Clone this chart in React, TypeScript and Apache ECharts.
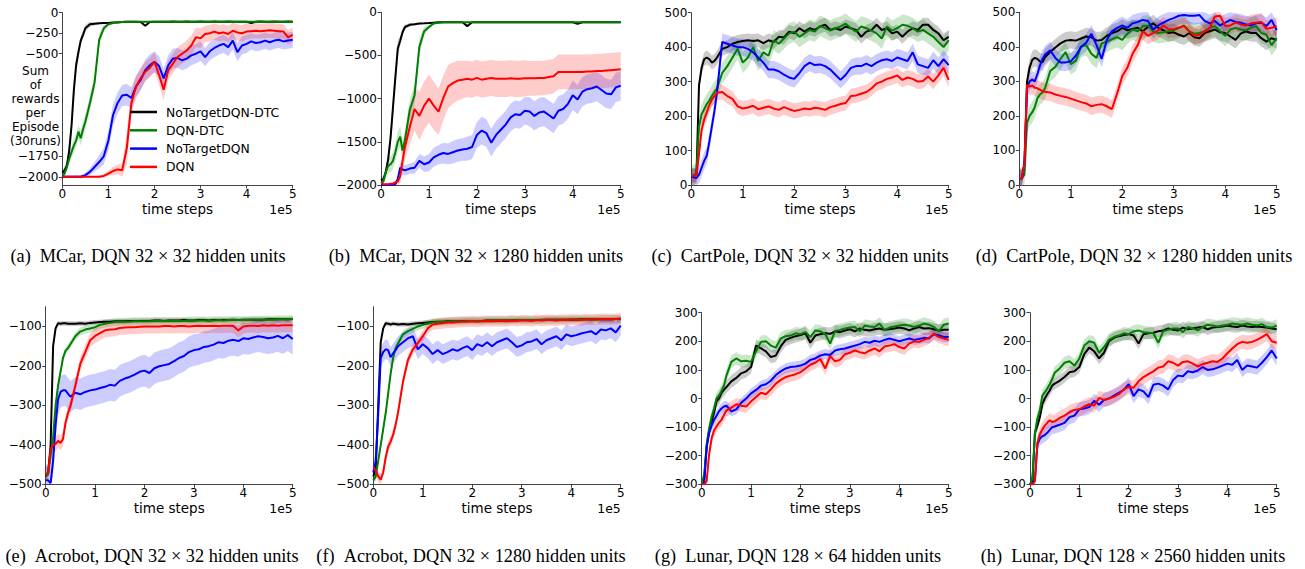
import React, { useEffect, useRef } from 'react';
import * as echarts from 'echarts';

// x positions (time steps, in units of 1e5)
const X = [0, 0.05, 0.1, 0.15, 0.2, 0.25, 0.3, 0.35, 0.4, 0.45, 0.5,
  0.6, 0.7, 0.8, 0.9, 1.0, 1.1, 1.2, 1.3, 1.4, 1.5, 1.6, 1.7, 1.8, 1.9, 2.0,
  2.1, 2.2, 2.3, 2.4, 2.5, 2.6, 2.7, 2.8, 2.9, 3.0, 3.1, 3.2, 3.3, 3.4, 3.5,
  3.6, 3.7, 3.8, 3.9, 4.0, 4.1, 4.2, 4.3, 4.4, 4.5, 4.6, 4.7, 4.8, 4.9, 5.0];

const NAMES = ['NoTargetDQN-DTC', 'DQN-DTC', 'NoTargetDQN', 'DQN'];
const X_TICKS = [0, 1, 2, 3, 4, 5];

// (a) MCar 32x32
const A_BLACK = [-1950, -1920, -1860, -1680, -1380, -950, -640, -480, -340, -270, -190,
  -140, -135, -130, -125, -125, -120, -118, -112, -110, -110, -110, -112, -160, -112, -110,
  -110, -110, -110, -108, -110, -110, -108, -110, -110, -108, -110, -110, -108, -110, -110,
  -108, -110, -110, -110, -110, -125, -110, -108, -110, -110, -108, -110, -110, -108, -110];
const A_GREEN = [-2000, -1960, -1880, -1780, -1700, -1620, -1560, -1450, -1530, -1420, -1330,
  -1100, -850, -330, -190, -140, -125, -115, -112, -110, -110, -110, -110, -110, -109, -110,
  -110, -109, -110, -110, -109, -110, -110, -109, -110, -110, -109, -110, -110, -109, -110,
  -110, -109, -110, -110, -109, -110, -110, -109, -110, -110, -109, -110, -110, -109, -110];
const A_BLUE = [-2000, -2000, -2000, -2000, -2000, -2000, -2000, -2000, -2000, -1990, -1980,
  -1940, -1880, -1820, -1750, -1560, -1250, -1100, -1010, -1000, -1040, -900, -820, -700, -640, -600,
  -650, -800, -640, -560, -550, -580, -560, -520, -500, -470, -540, -470, -430, -400, -380,
  -420, -340, -480, -400, -380, -350, -370, -360, -340, -360, -340, -330, -350, -340, -330];
const A_RED = [-2000, -2000, -2000, -2000, -2000, -2000, -2000, -2000, -2000, -2000, -2000,
  -2000, -2000, -2000, -1990, -1960, -1930, -1910, -1920, -1650, -1100, -900, -800, -720, -670, -600,
  -760, -940, -700, -620, -540, -500, -460, -400, -300, -310, -260, -250, -230, -250, -240,
  -260, -220, -240, -250, -230, -225, -220, -225, -220, -215, -220, -225, -230, -300, -270];
const A_BLACK_SD = [30, 40, 60, 80, 100, 120, 100, 80, 60, 50, 40,
  30, 20, 15, 10, 10, 10, 10, 10, 10, 10, 10, 10, 10, 10, 10,
  10, 10, 10, 10, 10, 10, 10, 10, 10, 10, 10, 10, 10, 10, 10,
  10, 10, 10, 10, 10, 10, 10, 10, 10, 10, 10, 10, 10, 10, 10];
const A_GREEN_SD = [20, 30, 50, 60, 70, 80, 80, 80, 90, 90, 90,
  90, 90, 80, 40, 20, 10, 10, 10, 10, 10, 10, 10, 10, 10, 10,
  10, 10, 10, 10, 10, 10, 10, 10, 10, 10, 10, 10, 10, 10, 10,
  10, 10, 10, 10, 10, 10, 10, 10, 10, 10, 10, 10, 10, 10, 10];
const A_BLUE_SD = [15, 15, 15, 15, 15, 15, 15, 15, 20, 20, 25,
  40, 60, 80, 100, 120, 130, 130, 130, 130, 130, 130, 130, 130, 130, 130,
  120, 120, 120, 120, 120, 120, 120, 120, 120, 120, 110, 110, 110, 110, 110,
  110, 110, 110, 110, 110, 100, 100, 100, 100, 100, 100, 100, 100, 100, 100];
const A_RED_SD = [10, 10, 10, 10, 10, 10, 10, 10, 10, 10, 10,
  10, 10, 15, 20, 30, 50, 60, 80, 200, 150, 130, 130, 120, 120, 120,
  120, 120, 120, 120, 120, 120, 120, 120, 120, 120, 100, 100, 100, 100, 100,
  100, 100, 100, 100, 100, 90, 90, 90, 90, 90, 90, 90, 90, 90, 90];

// (b) MCar 32x1280
const B_BLACK = [-1950, -1930, -1850, -1700, -1450, -1100, -750, -420, -330, -230, -170,
  -145, -138, -130, -128, -125, -120, -115, -115, -115, -115, -115, -115, -160, -115, -115,
  -115, -114, -115, -115, -114, -115, -115, -114, -115, -115, -114, -115, -115, -114, -115,
  -115, -114, -115, -115, -115, -132, -115, -114, -115, -115, -114, -115, -115, -114, -115];
const B_GREEN = [-1980, -1960, -1850, -1780, -1760, -1720, -1620, -1500, -1440, -1600, -1480,
  -1130, -960, -400, -220, -170, -130, -120, -116, -115, -115, -115, -114, -115, -115, -114,
  -115, -115, -114, -115, -115, -114, -115, -115, -114, -115, -115, -114, -115, -115, -114,
  -115, -115, -114, -115, -115, -114, -115, -115, -114, -115, -115, -114, -115, -115, -114];
const B_BLUE = [-2000, -2000, -2000, -2000, -2000, -2000, -1990, -1930, -1800, -1820, -1830,
  -1810, -1800, -1720, -1760, -1740, -1680, -1650, -1630, -1640, -1620, -1600, -1590, -1580, -1560, -1420,
  -1370, -1400, -1510, -1420, -1360, -1300, -1220, -1180, -1190, -1140, -1150, -1200, -1160, -1150, -1190,
  -1230, -1140, -1120, -1060, -960, -1010, -920, -890, -880, -860, -900, -940, -950, -870, -850];
const B_RED = [-1980, -1990, -1990, -1990, -1985, -1985, -1970, -1960, -1900, -1720, -1560,
  -1330, -1120, -1200, -1080, -1000, -1080, -1150, -990, -860, -820, -790, -780, -770, -780, -760,
  -780, -770, -760, -770, -770, -770, -765, -770, -770, -765, -765, -765, -760, -760, -750,
  -740, -690, -690, -690, -690, -690, -690, -685, -685, -680, -680, -675, -670, -665, -660];
const B_BLACK_SD = [30, 40, 60, 90, 110, 120, 110, 90, 60, 40, 30,
  20, 15, 12, 10, 10, 10, 10, 10, 10, 10, 10, 10, 10, 10, 10,
  10, 10, 10, 10, 10, 10, 10, 10, 10, 10, 10, 10, 10, 10, 10,
  10, 10, 10, 10, 10, 10, 10, 10, 10, 10, 10, 10, 10, 10, 10];
const B_GREEN_SD = [20, 30, 60, 80, 90, 100, 100, 110, 120, 120, 120,
  120, 120, 100, 50, 30, 15, 10, 10, 10, 10, 10, 10, 10, 10, 10,
  10, 10, 10, 10, 10, 10, 10, 10, 10, 10, 10, 10, 10, 10, 10,
  10, 10, 10, 10, 10, 10, 10, 10, 10, 10, 10, 10, 10, 10, 10];
const B_BLUE_SD = [10, 10, 10, 10, 10, 10, 20, 40, 60, 60, 60,
  60, 70, 80, 90, 100, 110, 110, 120, 120, 130, 130, 130, 140, 140, 150,
  160, 160, 160, 160, 160, 160, 160, 160, 160, 160, 170, 170, 170, 170, 170,
  170, 170, 170, 170, 170, 170, 170, 170, 170, 170, 170, 170, 170, 170, 170];
const B_RED_SD = [10, 10, 10, 10, 10, 10, 20, 40, 80, 120, 150,
  200, 250, 280, 280, 280, 280, 270, 260, 250, 240, 230, 220, 210, 210, 210,
  210, 210, 210, 210, 210, 210, 210, 210, 210, 210, 200, 200, 200, 200, 200,
  200, 200, 200, 200, 200, 200, 200, 200, 200, 200, 200, 200, 200, 200, 200];

// (c) CartPole 32x32
const C_BLACK = [25, 28, 30, 290, 340, 365, 370, 365, 355, 360, 370,
  395, 400, 410, 415, 418, 420, 418, 420, 412, 420, 415, 430, 428, 445, 440,
  455, 445, 455, 450, 460, 465, 450, 455, 450, 460, 455, 450, 430, 445, 450,
  465, 450, 455, 440, 445, 430, 445, 455, 450, 465, 465, 450, 440, 420, 430];
const C_GREEN = [25, 28, 35, 170, 205, 220, 235, 245, 258, 270, 280,
  325, 345, 370, 395, 355, 370, 400, 360, 385, 375, 420, 410, 425, 440, 445,
  430, 440, 450, 445, 462, 455, 448, 455, 460, 468, 455, 445, 460, 455, 448,
  440, 425, 460, 448, 455, 465, 462, 455, 445, 450, 440, 430, 415, 400, 420];
const C_BLUE = [25, 22, 20, 30, 50, 70, 85, 125, 170, 215, 270,
  415, 410, 405, 400, 400, 395, 385, 370, 355, 335, 335, 330, 320, 312, 308,
  325, 345, 355, 348, 350, 345, 335, 320, 305, 320, 340, 345, 345, 352, 345,
  355, 362, 365, 360, 370, 365, 360, 385, 350, 345, 340, 362, 345, 365, 348];
const C_RED = [25, 28, 25, 90, 160, 190, 210, 232, 248, 258, 268,
  270, 258, 250, 228, 222, 225, 230, 220, 224, 228, 222, 218, 226, 220, 215,
  218, 222, 220, 224, 222, 218, 226, 230, 235, 238, 258, 260, 265, 270, 280,
  295, 300, 308, 312, 318, 305, 312, 308, 300, 302, 315, 300, 318, 340, 305];
const C_SD = [20, 30, 25, 22];

// (d) CartPole 32x1280
const D_BLACK = [20, 20, 60, 300, 340, 362, 368, 365, 358, 355, 370,
  385, 398, 410, 418, 420, 418, 424, 430, 428, 418, 420, 432, 440, 445, 455,
  448, 452, 455, 445, 458, 468, 455, 448, 440, 442, 435, 430, 440, 428, 425,
  440, 445, 450, 442, 440, 430, 420, 438, 445, 440, 440, 425, 415, 425, 420];
const D_GREEN = [20, 20, 30, 180, 200, 210, 225, 250, 262, 268, 280,
  330, 342, 365, 385, 350, 360, 400, 405, 380, 368, 410, 415, 422, 428, 420,
  438, 450, 445, 460, 462, 445, 440, 442, 445, 448, 455, 462, 445, 438, 440,
  445, 455, 460, 445, 432, 450, 455, 450, 448, 455, 460, 440, 435, 405, 425];
const D_BLUE = [20, 18, 60, 280, 300, 305, 300, 320, 345, 365, 378,
  390, 368, 355, 355, 358, 375, 400, 412, 438, 405, 365, 420, 445, 455, 462,
  455, 468, 472, 478, 475, 450, 462, 470, 478, 483, 490, 492, 490, 490, 492,
  475, 468, 475, 462, 470, 478, 472, 470, 465, 462, 468, 470, 460, 478, 448];
const D_RED = [20, 20, 60, 290, 285, 288, 282, 280, 276, 272, 270,
  268, 262, 258, 255, 250, 245, 240, 236, 228, 232, 234, 228, 220, 265, 315,
  340, 380, 405, 445, 432, 440, 448, 462, 450, 452, 455, 460, 445, 432, 435,
  445, 455, 488, 490, 460, 462, 470, 465, 462, 468, 470, 472, 452, 455, 460];
const D_SD = [25, 30, 25, 25];

// (e) Acrobot 32x32
const E_BLACK = [-480, -470, -400, -150, -105, -92, -93, -92, -92, -93, -93,
  -93, -92, -93, -91, -90, -89, -88, -88, -87, -87, -87, -86, -86, -86, -86,
  -86, -85, -85, -86, -85, -85, -85, -84, -85, -85, -84, -84, -85, -84, -84,
  -84, -84, -83, -84, -83, -83, -83, -83, -83, -82, -82, -82, -82, -82, -81];
const E_GREEN = [-480, -475, -430, -380, -300, -250, -215, -180, -162, -155, -145,
  -125, -113, -108, -105, -102, -96, -93, -91, -89, -88, -88, -88, -87, -87, -87,
  -87, -86, -86, -86, -86, -86, -86, -86, -85, -85, -85, -85, -85, -85, -84,
  -85, -84, -84, -84, -84, -84, -83, -83, -83, -83, -83, -82, -82, -82, -81];
const E_BLUE = [-490, -490, -497, -440, -350, -285, -266, -262, -262, -270, -278,
  -268, -272, -266, -262, -260, -256, -253, -248, -250, -238, -232, -228, -222, -215, -212,
  -218, -206, -201, -198, -195, -188, -180, -175, -165, -160, -158, -152, -150, -146, -140,
  -142, -136, -134, -137, -130, -132, -128, -125, -127, -130, -128, -124, -130, -122, -132];
const E_RED = [-475, -472, -410, -400, -398, -390, -395, -385, -345, -320, -302,
  -250, -195, -165, -135, -124, -117, -110, -108, -107, -104, -103, -102, -102, -101, -100,
  -100, -100, -100, -99, -99, -100, -99, -99, -100, -99, -98, -99, -99, -98, -99,
  -98, -98, -99, -110, -100, -98, -98, -99, -97, -98, -97, -98, -97, -97, -97];
const E_SD = [6, 10, 40, 18];

// (f) Acrobot 32x1280
const F_BLACK = [-480, -460, -300, -140, -105, -92, -93, -95, -93, -94, -95,
  -94, -95, -93, -92, -91, -90, -89, -88, -88, -87, -87, -87, -86, -86, -86,
  -86, -86, -85, -85, -85, -85, -85, -85, -84, -84, -84, -84, -84, -84, -83,
  -83, -83, -83, -83, -83, -83, -82, -82, -82, -82, -82, -82, -82, -81, -81];
const F_GREEN = [-490, -480, -440, -400, -360, -320, -270, -220, -180, -155, -143,
  -120, -112, -106, -100, -96, -93, -90, -89, -88, -88, -87, -87, -87, -86, -86,
  -86, -86, -85, -85, -85, -85, -85, -84, -84, -84, -84, -84, -84, -83, -83,
  -83, -83, -83, -83, -82, -82, -82, -82, -82, -82, -81, -81, -81, -81, -81];
const F_BLUE = [-470, -440, -320, -180, -165, -158, -160, -178, -168, -160, -150,
  -140, -130, -125, -158, -145, -155, -170, -160, -170, -165, -158, -162, -155, -150, -160,
  -145, -150, -140, -150, -140, -135, -130, -140, -152, -148, -140, -138, -132, -145, -135,
  -130, -125, -135, -120, -125, -122, -118, -115, -112, -120, -108, -110, -105, -115, -98];
const F_RED = [-455, -465, -480, -488, -470, -432, -405, -392, -375, -350, -318,
  -240, -185, -158, -142, -125, -105, -95, -93, -92, -90, -90, -89, -88, -88, -87,
  -88, -87, -86, -87, -86, -86, -87, -85, -86, -85, -85, -86, -84, -85, -84,
  -84, -85, -83, -84, -83, -83, -84, -82, -83, -82, -82, -81, -82, -81, -80];
const F_SD = [6, 10, 25, 14];

// (g) Lunar 128x64
const G_BLACK = [-300, -280, -170, -115, -80, -50, -10, 0, 20, 30, 40,
  60, 72, 88, 95, 110, 185, 175, 165, 145, 150, 182, 205, 212, 218, 222,
  228, 195, 220, 225, 228, 226, 235, 232, 238, 242, 235, 245, 240, 238, 242,
  245, 240, 242, 245, 248, 245, 238, 245, 250, 245, 246, 242, 238, 240, 240];
const G_GREEN = [-300, -270, -160, -105, -65, -35, 0, 10, 25, 45, 80,
  128, 140, 130, 132, 128, 165, 198, 200, 185, 178, 210, 218, 220, 228, 225,
  232, 215, 238, 235, 225, 192, 236, 240, 245, 248, 250, 235, 255, 252, 250,
  262, 240, 248, 252, 255, 258, 255, 250, 255, 262, 258, 250, 235, 258, 262];
const G_BLUE = [-300, -300, -170, -120, -95, -75, -60, -45, -35, -28, -25,
  -45, -38, -15, 0, 18, 30, 45, 50, 62, 82, 95, 105, 110, 112, 115,
  122, 135, 140, 150, 155, 152, 168, 172, 175, 180, 185, 190, 198, 195, 202,
  198, 205, 210, 205, 200, 205, 210, 205, 208, 212, 210, 225, 220, 215, 215];
const G_RED = [-300, -300, -290, -195, -140, -112, -98, -85, -75, -58, -42,
  -32, -20, -25, -28, -10, 5, 20, 15, 32, 52, 65, 75, 80, 85, 92,
  105, 118, 125, 138, 105, 148, 130, 135, 155, 160, 168, 162, 158, 168, 175,
  165, 182, 185, 190, 180, 175, 192, 200, 198, 205, 212, 225, 215, 210, 205];
const G_SD = [22, 22, 18, 22];

// (h) Lunar 128x2560
const H_BLACK = [-300, -290, -120, -95, -65, -20, 0, 15, 28, 45, 52,
  62, 75, 92, 95, 110, 155, 178, 165, 140, 160, 200, 212, 218, 222, 225,
  220, 192, 225, 228, 230, 235, 238, 245, 240, 238, 248, 242, 245, 248, 250,
  242, 248, 250, 252, 255, 252, 250, 255, 252, 250, 252, 250, 248, 245, 242];
const H_GREEN = [-300, -280, -120, -70, -40, 10, 22, 35, 50, 68, 90,
  105, 125, 130, 115, 140, 185, 200, 195, 160, 180, 205, 215, 220, 228, 225,
  235, 238, 232, 230, 228, 195, 235, 240, 245, 245, 232, 250, 245, 238, 250,
  258, 255, 252, 255, 258, 262, 260, 258, 262, 258, 255, 260, 250, 248, 255];
const H_BLUE = [-300, -300, -280, -160, -140, -132, -128, -120, -110, -100, -98,
  -92, -85, -65, -60, -38, -35, -30, -8, -22, -5, 0, 10, 20, 30, 50,
  8, 32, 25, 5, 48, 52, 45, 32, 65, 80, 78, 95, 92, 98, 110,
  100, 102, 108, 115, 122, 118, 135, 100, 115, 112, 108, 125, 145, 168, 140];
const H_RED = [-300, -300, -290, -155, -125, -108, -95, -85, -76, -82, -80,
  -68, -60, -48, -40, -38, -28, -20, -25, 2, -5, 0, 6, 15, 32, 40,
  38, 60, 75, 85, 95, 108, 112, 130, 125, 115, 128, 130, 122, 112, 120,
  125, 130, 128, 140, 158, 175, 190, 198, 195, 198, 205, 215, 225, 200, 195];
const H_SD = [20, 22, 25, 25];

// y tick labels
const Y_TICKS_A = [0, -250, -500, -1750, -2000];
const Y_TICKS_B = [0, -500, -1000, -1500, -2000];
const Y_TICKS_CP = [0, 100, 200, 300, 400, 500];
const Y_TICKS_AC = [-100, -200, -300, -400, -500];
const Y_TICKS_LU = [300, 200, 100, 0, -100, -200, -300];

const CAPTIONS = [
  '(a)\u00a0\u00a0MCar, DQN 32 × 32 hidden units',
  '(b)\u00a0\u00a0MCar, DQN 32 × 1280 hidden units',
  '(c)\u00a0\u00a0CartPole, DQN 32 × 32 hidden units',
  '(d)\u00a0\u00a0CartPole, DQN 32 × 1280 hidden units',
  '(e)\u00a0\u00a0Acrobot, DQN 32 × 32 hidden units',
  '(f)\u00a0\u00a0Acrobot, DQN 32 × 1280 hidden units',
  '(g)\u00a0\u00a0Lunar, DQN 128 × 64 hidden units',
  '(h)\u00a0\u00a0Lunar, DQN 128 × 2560 hidden units',
];

const COLORS = ['#000000', '#008000', '#0000ff', '#ff0000'];
const BAND_COLORS = ['rgba(0,0,0,0.2)', 'rgba(0,128,0,0.2)', 'rgba(0,0,255,0.2)', 'rgba(255,0,0,0.2)'];

const PANELS = [
  { means: [A_BLACK, A_GREEN, A_BLUE, A_RED], sds: [A_BLACK_SD, A_GREEN_SD, A_BLUE_SD, A_RED_SD], yMin: -2100, yMax: 0, yTicks: Y_TICKS_A,
    grid: { left: 62.3, top: 12.7, width: 230.4, height: 172.3 }, cap: { x: 148, y: 256 } },
  { means: [B_BLACK, B_GREEN, B_BLUE, B_RED], sds: [B_BLACK_SD, B_GREEN_SD, B_BLUE_SD, B_RED_SD], yMin: -2000, yMax: 0, yTicks: Y_TICKS_B,
    grid: { left: 381, top: 12.3, width: 239.7, height: 172.7 }, cap: { x: 476, y: 256 } },
  { means: [C_BLACK, C_GREEN, C_BLUE, C_RED], sds: C_SD, yMin: 0, yMax: 500, yTicks: Y_TICKS_CP,
    grid: { left: 691.3, top: 12.7, width: 257.4, height: 172.3 }, cap: { x: 800, y: 256 } },
  { means: [D_BLACK, D_GREEN, D_BLUE, D_RED], sds: D_SD, yMin: 0, yMax: 500, yTicks: Y_TICKS_CP,
    grid: { left: 1019.3, top: 12.3, width: 257.4, height: 172.7 }, cap: { x: 1134, y: 256 } },
  { means: [E_BLACK, E_GREEN, E_BLUE, E_RED], sds: E_SD, yMin: -500, yMax: -50, yTicks: Y_TICKS_AC,
    grid: { left: 45.7, top: 306.7, width: 247, height: 177.6 }, cap: { x: 152, y: 556 } },
  { means: [F_BLACK, F_GREEN, F_BLUE, F_RED], sds: F_SD, yMin: -500, yMax: -50, yTicks: Y_TICKS_AC,
    grid: { left: 373.3, top: 306.7, width: 247.4, height: 177.6 }, cap: { x: 471, y: 556 } },
  { means: [G_BLACK, G_GREEN, G_BLUE, G_RED], sds: G_SD, yMin: -300, yMax: 300, yTicks: Y_TICKS_LU,
    grid: { left: 701.7, top: 312.7, width: 247, height: 171.6 }, cap: { x: 798, y: 556 } },
  { means: [H_BLACK, H_GREEN, H_BLUE, H_RED], sds: H_SD, yMin: -300, yMax: 300, yTicks: Y_TICKS_LU,
    grid: { left: 1030, top: 312.7, width: 246.7, height: 171.6 }, cap: { x: 1133, y: 556 } },
];

const SANS = 'DejaVu Sans';
const SERIF = 'Liberation Serif';
const AXIS_COLOR = '#444';

const sdAt = (sd: any, k: number) => (Array.isArray(sd) ? sd[k] : sd);
const fmtNum = (v: number) => String(v).replace('-', '\u2212');

function buildOption() {
  const grid: any[] = [];
  const xAxis: any[] = [];
  const yAxis: any[] = [];
  const series: any[] = [];
  const graphic: any[] = [];

  PANELS.forEach((p, i) => {
    grid.push({ ...p.grid, containLabel: false, outerBoundsMode: 'none' });
    xAxis.push({
      type: 'value', gridIndex: i, min: 0, max: 5, interval: 1,
      name: 'time steps', nameLocation: 'middle', nameGap: 17,
      nameTextStyle: { fontFamily: SANS, fontSize: 13.5, color: '#000' },
      axisLine: { show: true, onZero: false, lineStyle: { color: AXIS_COLOR, width: 1 } },
      axisTick: { show: true, length: 3.5, lineStyle: { color: AXIS_COLOR, width: 1 }, customValues: X_TICKS },
      axisLabel: { fontFamily: SANS, fontSize: 12, color: '#000', margin: 3, customValues: X_TICKS },
      splitLine: { show: false },
    });
    yAxis.push({
      type: 'value', gridIndex: i, min: p.yMin, max: p.yMax,
      axisLine: { show: true, onZero: false, lineStyle: { color: AXIS_COLOR, width: 1 } },
      axisTick: { show: true, length: 3.5, lineStyle: { color: AXIS_COLOR, width: 1 }, customValues: p.yTicks },
      axisLabel: { fontFamily: SANS, fontSize: 12, color: '#000', margin: 4, customValues: p.yTicks, formatter: (v: number) => fmtNum(v) },
      splitLine: { show: false },
    });

    // bands
    p.means.forEach((mean, s) => {
      const sd = (p.sds as any)[s];
      series.push({
        type: 'custom', xAxisIndex: i, yAxisIndex: i, silent: true, z: 1,
        data: X.map((x, k) => [x, mean[k]]),
        encode: { x: 0, y: 1 },
        renderItem: (params: any, api: any) => {
          if (params.dataIndex !== 0) return null;
          const clamp = (v: number) => Math.max(p.yMin, Math.min(p.yMax, v));
          const up = X.map((x, k) => api.coord([x, clamp(mean[k] + sdAt(sd, k))]));
          const lo = X.map((x, k) => api.coord([x, clamp(mean[k] - sdAt(sd, k))])).reverse();
          return { type: 'polygon', shape: { points: up.concat(lo) }, style: { fill: BAND_COLORS[s] }, silent: true };
        },
      });
    });
    // lines
    p.means.forEach((mean, s) => {
      series.push({
        type: 'line', name: NAMES[s], xAxisIndex: i, yAxisIndex: i, z: 2,
        data: X.map((x, k) => [x, mean[k]]),
        showSymbol: false, symbol: 'none', silent: true, clip: true,
        lineStyle: { color: COLORS[s], width: 2 }, itemStyle: { color: COLORS[s] },
      });
    });

    // "1e5" offset text
    graphic.push({
      type: 'text', x: p.grid.left + p.grid.width, y: p.grid.top + p.grid.height + 24.5, silent: true,
      style: { text: '1e5', fontFamily: SANS, fontSize: 12.4, fill: '#000', align: 'right', verticalAlign: 'middle' },
    });
    // caption
    graphic.push({
      type: 'text', x: p.cap.x, y: p.cap.y, silent: true,
      style: { text: CAPTIONS[i], fontFamily: SERIF, fontSize: 18.3, fill: '#000', align: 'center', verticalAlign: 'middle' },
    });
  });

  // y label of panel (a)
  graphic.push({
    type: 'text', x: 35.5, y: 106, silent: true,
    style: { text: 'Sum\nof\nrewards\nper\nEpisode\n(30runs)', fontFamily: SANS, fontSize: 12, lineHeight: 14, fill: '#000', align: 'center', verticalAlign: 'middle' },
  });

  return {
    animation: false,
    backgroundColor: '#ffffff',
    legend: {
      show: true, data: NAMES, orient: 'vertical', left: 130, top: 105, padding: 0,
      icon: 'rect', itemWidth: 27, itemHeight: 2.5, itemGap: 4.3, selectedMode: false,
      textStyle: { fontFamily: SANS, fontSize: 12.4, color: '#000', padding: [0, 0, 0, 4], lineHeight: 14 },
    },
    grid, xAxis, yAxis, series, graphic,
  };
}

export default function App() {
  const ref = useRef<HTMLDivElement>(null);
  useEffect(() => {
    if (!ref.current) return;
    const chart = echarts.init(ref.current, undefined, { renderer: 'svg' });
    chart.setOption(buildOption() as any);
    return () => chart.dispose();
  }, []);
  return <div ref={ref} style={{ position: 'absolute', left: 0, top: 0, width: 1305, height: 569 }} />;
}
